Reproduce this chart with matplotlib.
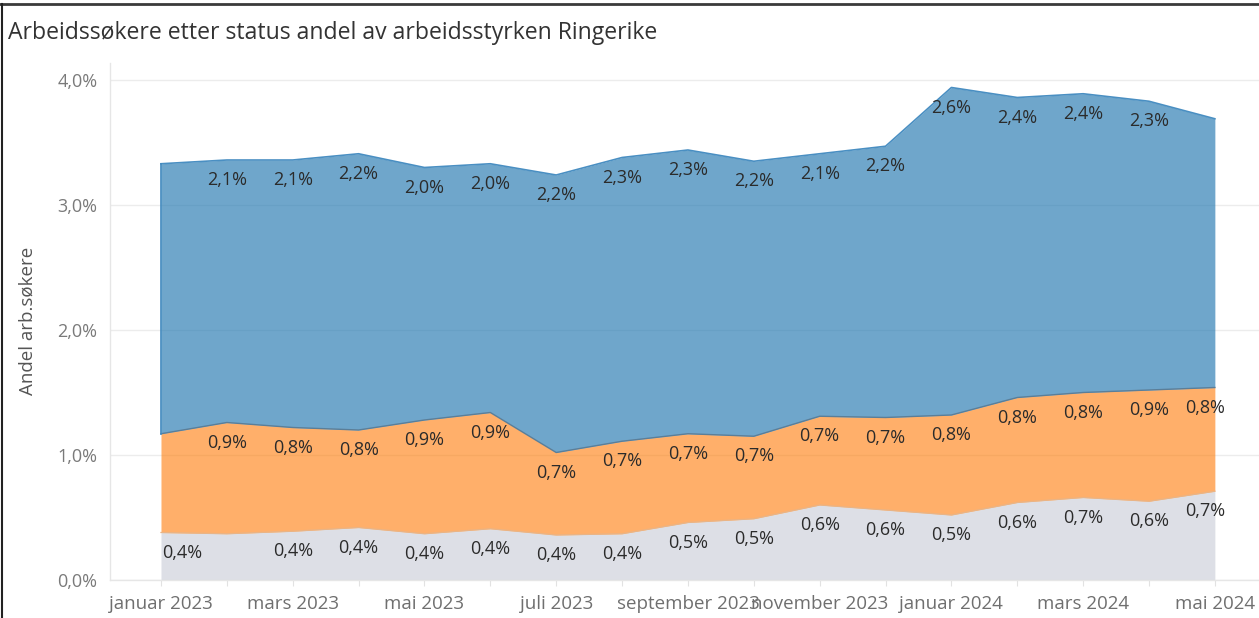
import matplotlib
matplotlib.use("Agg")
import matplotlib.pyplot as plt
from matplotlib.lines import Line2D
import numpy as np

# ---------------- data ----------------
months = ["januar 2023", "februar 2023", "mars 2023", "april 2023", "mai 2023",
          "juni 2023", "juli 2023", "august 2023", "september 2023", "oktober 2023",
          "november 2023", "desember 2023", "januar 2024", "februar 2024",
          "mars 2024", "april 2024", "mai 2024"]
grey_vals = [0.38, 0.37, 0.39, 0.42, 0.37, 0.41, 0.36, 0.37, 0.46, 0.49,
             0.60, 0.56, 0.52, 0.62, 0.66, 0.63, 0.71]
orange_vals = [0.79, 0.89, 0.83, 0.78, 0.91, 0.93, 0.66, 0.74, 0.71, 0.66,
               0.71, 0.74, 0.80, 0.84, 0.84, 0.89, 0.83]
blue_vals = [2.16, 2.10, 2.14, 2.21, 2.02, 1.99, 2.22, 2.27, 2.27, 2.20,
             2.10, 2.17, 2.62, 2.40, 2.39, 2.31, 2.15]
# labels Tableau hid because of overlap
grey_hidden = [1]
orange_hidden = [0]
blue_hidden = [0, 16]
yticks = [0, 1, 2, 3, 4]
title = "Arbeidssøkere etter status andel av arbeidsstyrken Ringerike"
ylabel = "Andel arb.søkere"

# ---------------- style ----------------
plt.rcParams['font.family'] = ['Open Sans', 'DejaVu Sans']
W, H = 1259, 618
fig = plt.figure(figsize=(W / 100, H / 100), dpi=100)
ax = fig.add_axes([110 / W, 38 / H, (W - 110) / W, (580 - 63) / H])

x = np.arange(len(months))
g = np.array(grey_vals)
o = np.array(orange_vals)
b = np.array(blue_vals)
c1 = g
c2 = g + o
c3 = g + o + b

ax.fill_between(x, 0, c1, color='#cbcfd9', alpha=0.65, lw=0, zorder=2)
ax.plot(x, c1, color='#e9b486', lw=0.9, zorder=3)
ax.fill_between(x, c1, c2, color='#ff7f0e', alpha=0.62, lw=0, zorder=2)
ax.fill_between(x, c2, c3, color='#2277b0', alpha=0.65, lw=0, zorder=2)
ax.plot(x, c2, color='#5b7e98', lw=1.0, zorder=3)
ax.plot(x, c3, color='#4a8fc2', lw=1.2, zorder=3)
ax.plot([x[0], x[0]], [c2[0], c3[0]], color='#3f88bd', lw=1.2, zorder=3)


def fmt(v):
    return f"{v:.1f}%".replace('.', ',')


def label_series(vals, tops, hidden):
    for i, (v, t) in enumerate(zip(vals, tops)):
        if i in hidden:
            continue
        ha = 'center'
        dx = 0
        if i == 0:
            ha, dx = 'left', 1
        elif i == len(vals) - 1:
            dx = -7
        ax.annotate(fmt(v), (x[i], t), xytext=(dx, -14.5), textcoords='offset points',
                    ha=ha, va='center', fontsize=13, color='#2b2b2b', zorder=5)


label_series(grey_vals, c1, grey_hidden)
label_series(orange_vals, c2, orange_hidden)
label_series(blue_vals, c3, blue_hidden)

ax.set_xlim(-0.774, 16.67)
ax.set_ylim(0, 4.136)
ax.set_yticks(yticks)
ax.set_yticklabels([f"{t},0%" for t in yticks], fontsize=13, color='#7a7a7a')
ax.set_xticks(x)
ax.set_xticklabels([m if i % 2 == 0 else '' for i, m in enumerate(months)],
                   fontsize=13.5, color='#6f6f6f')
ax.tick_params(axis='x', length=4, color='#e2e2e2', pad=7)
ax.tick_params(axis='y', length=0, pad=9)
ax.grid(axis='y', color='#ececec', lw=1, zorder=1)
ax.set_axisbelow(True)
for s in ['top', 'right']:
    ax.spines[s].set_visible(False)
for s in ['left', 'bottom']:
    ax.spines[s].set_color('#e6e6e6')
    ax.spines[s].set_linewidth(1)

fig.text(8 / W, 1 - 33 / H, title, ha='left', va='center', fontsize=16.6, color='#333333')
fig.text(28 / W, 1 - 321 / H, ylabel, rotation=90, ha='center', va='center',
         fontsize=13.5, color='#555555')

fig.add_artist(Line2D([0, 1], [1 - 4 / H] * 2, color='#3a3a3a', lw=2))
fig.add_artist(Line2D([1.5 / W] * 2, [0, 1 - 4 / H], color='#222222', lw=1.5))

fig.savefig('out.png', dpi=100)
